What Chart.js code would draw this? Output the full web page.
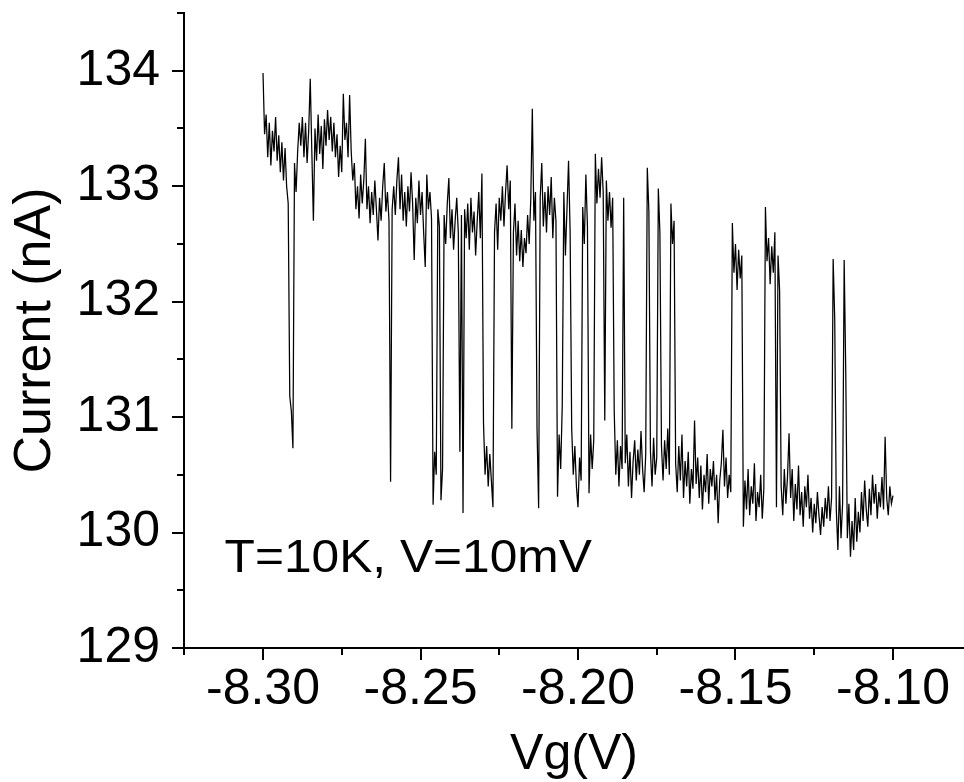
<!DOCTYPE html>
<html>
<head>
<meta charset="utf-8">
<script src="https://cdn.jsdelivr.net/npm/chart.js@4.4.1/dist/chart.umd.min.js"></script>
<style>
  html, body { margin: 0; padding: 0; background: #ffffff; }
  #wrap { width: 964px; height: 782px; position: relative; }
  canvas { display: block; }
</style>
</head>
<body>
<div id="wrap"><canvas id="c" width="964" height="782"></canvas></div>
<script>
// ---- Data ----
// Gate-voltage sweep: uniform sampling from -8.300 V in 0.0005 V steps
const vgStart = -8.30;
const vgStep = 0.0005;

// Current (nA) at each sweep step
const currentNA = [
  // -8.300 .. -8.292
  133.98,133.45,133.62,133.25,133.55,133.18,133.48,133.30,133.60,133.22,133.44,133.12,133.38,133.05,133.33,133.00,132.85,
  // first dip
  131.18,131.05,130.73,133.20,132.95,133.30,133.55,133.35,
  // upper plateau
  133.60,133.25,133.55,133.20,133.48,133.93,133.30,132.70,133.50,133.22,
  133.62,133.28,133.52,133.15,133.58,133.35,133.66,133.40,133.60,133.30,
  133.55,133.25,133.45,133.08,133.35,133.12,133.80,133.40,133.55,133.25,
  133.79,
  // descending band
  133.30,133.05,133.20,132.80,133.00,132.72,133.10,132.85,133.05,133.41,
  132.80,133.00,132.68,132.95,132.75,133.05,132.80,132.53,132.90,132.70,
  133.00,133.20,132.78,132.95,132.70,
  130.44,132.80,
  133.00,132.75,133.05,133.25,132.80,133.10,132.70,132.95,132.65,133.00,
  132.78,133.12,132.85,132.36,132.90,132.68,133.05,132.75,132.95,132.60,
  132.30,133.10,132.80,132.95,132.72,
  130.24,130.70,130.50,132.80,132.65,130.28,130.55,
  132.75,132.50,132.85,133.07,132.55,132.80,132.45,132.70,132.90,132.60,
  130.70,132.75,130.17,132.80,
  132.55,132.85,132.45,132.90,132.60,132.78,132.40,132.70,132.95,132.55,133.11,
  130.95,130.50,130.75,130.40,130.68,130.45,130.22,
  132.60,132.85,132.45,132.90,132.70,133.00,132.65,132.95,133.18,132.80,133.05,
  130.90,132.60,
  132.85,132.40,132.70,132.35,132.62,132.30,132.55,132.42,132.75,132.50,132.88,133.67,132.70,132.95,
  130.89,130.21,
  132.90,133.20,132.65,132.95,132.60,133.00,132.75,133.08,132.55,132.90,132.70,
  130.31,130.85,130.55,131.10,
  132.95,132.40,132.80,133.22,132.60,
  130.90,130.50,130.75,130.40,130.22,130.65,130.45,
  132.82,132.50,133.10,132.65,
  130.34,130.85,130.55,130.80,
  133.28,132.85,133.15,132.90,133.25,132.95,130.97,133.05,132.70,132.95,132.64,132.90,
  131.05,130.50,130.80,130.40,130.75,130.55,
  132.90,
  130.60,130.85,130.40,130.70,130.30,130.62,130.80,130.45,130.72,130.50,130.88,130.55,130.35,130.68,
  133.16,132.78,
  130.70,130.40,130.82,130.50,130.65,
  132.98,132.60,130.75,
  130.45,130.80,130.55,130.90,130.50,
  132.85,132.50,132.70,
  // lower state
  130.60,130.35,130.75,130.45,130.85,130.30,130.62,130.40,130.70,130.25,
  130.55,130.38,130.97,130.42,130.65,130.30,130.58,130.20,130.50,130.35,
  130.68,130.25,130.55,130.40,130.62,130.28,130.50,130.08,130.45,130.60,
  130.89,130.40,130.65,130.30,130.50,130.35,
  132.68,132.25,132.50,132.10,132.45,132.20,132.40,
  130.05,130.45,130.20,130.55,130.15,130.40,130.25,130.60,130.10,130.35,130.22,130.50,130.12,130.38,
  132.82,132.35,132.55,132.15,132.48,132.25,132.60,130.22,132.40,132.10,
  130.40,130.15,130.55,130.25,130.48,130.86,130.30,130.55,130.10,130.42,
  130.20,130.58,130.15,130.35,130.05,130.40,130.22,130.50,130.12,130.30,
  130.00,130.25,130.08,130.35,130.15,129.98,130.22,130.05,130.30,130.12,
  130.40,130.10,130.30,
  132.37,131.85,
  130.20,129.85,130.40,129.95,130.25,
  132.36,131.40,
  129.95,130.25,129.79,130.10,129.85,130.30,129.92,130.18,130.00,
  130.35,130.10,130.45,130.20,130.05,130.38,130.15,130.50,130.25,130.42,
  130.12,130.35,130.22,130.48,130.20,130.83,130.30,130.15,130.40,130.25,
  130.32
];

// Tick values / labels
const xTickValues = [-8.30, -8.25, -8.20, -8.15, -8.10];
const xTickLabels = ['-8.30', '-8.25', '-8.20', '-8.15', '-8.10'];
const xMinorTicks = [-8.325, -8.275, -8.225, -8.175, -8.125, -8.075];
const yTickValues = [129, 130, 131, 132, 133, 134];
const yTickLabels = ['129', '130', '131', '132', '133', '134'];
const yMinorTicks = [129.5, 130.5, 131.5, 132.5, 133.5, 134.5];

const xTitle = 'Vg(V)';
const yTitle = 'Current (nA)';
const noteText = 'T=10K, V=10mV';

// ---- Layout / style (not data) ----
const FONT = '"Liberation Sans", Arial, Helvetica, sans-serif';
const X_MIN = -8.32508, X_MAX = -8.07746;
const Y_MIN = 129, Y_MAX = 134.5;
const NOTE_AT = { x: -8.3122, y: 129.655 };

const points = currentNA.map((c, i) => ({ x: vgStart + i * vgStep, y: c }));

const extrasPlugin = {
  id: 'extras',
  afterDraw(chart) {
    const ctx = chart.ctx;
    const xs = chart.scales.x, ys = chart.scales.y;
    const area = chart.chartArea;
    ctx.save();
    ctx.strokeStyle = '#000';
    ctx.lineWidth = 2;
    ctx.beginPath();
    yMinorTicks.forEach(v => {
      const py = Math.round(ys.getPixelForValue(v));
      ctx.moveTo(area.left - 7, py);
      ctx.lineTo(area.left, py);
    });
    xMinorTicks.forEach(v => {
      const px = Math.round(xs.getPixelForValue(v));
      ctx.moveTo(px, area.bottom);
      ctx.lineTo(px, area.bottom + 7);
    });
    ctx.stroke();
    ctx.fillStyle = '#000';
    ctx.font = '46px ' + FONT;
    ctx.textAlign = 'left';
    ctx.textBaseline = 'alphabetic';
    const nx = xs.getPixelForValue(NOTE_AT.x), ny = ys.getPixelForValue(NOTE_AT.y);
    ctx.translate(nx, ny);
    ctx.scale(1.08, 1);
    ctx.fillText(noteText, 0, 0);
    ctx.restore();
  }
};

new Chart(document.getElementById('c'), {
  type: 'line',
  data: {
    datasets: [{
      data: points,
      borderColor: '#000000',
      borderWidth: 1.25,
      pointRadius: 0,
      tension: 0,
      fill: false
    }]
  },
  options: {
    responsive: false,
    animation: false,
    devicePixelRatio: 1,
    layout: { padding: { top: 13, left: 0, right: 0, bottom: 0 } },
    plugins: { legend: { display: false }, tooltip: { enabled: false } },
    scales: {
      x: {
        type: 'linear',
        min: X_MIN,
        max: X_MAX,
        afterBuildTicks: s => { s.ticks = xTickValues.map(v => ({ value: v })); },
        afterFit: s => { s.height = 134; s.paddingLeft = 0; s.paddingRight = 0; },
        ticks: {
          autoSkip: false,
          maxRotation: 0,
          minRotation: 0,
          padding: 0,
          color: '#000',
          font: { family: FONT, size: 50 },
          callback: (v, i) => xTickLabels[i]
        },
        grid: { display: true, drawOnChartArea: false, drawTicks: true, tickLength: 12, lineWidth: 2, tickWidth: 2, tickColor: '#000', color: '#000' },
        border: { display: true, color: '#000', width: 2 },
        title: { display: true, text: xTitle, color: '#000', font: { family: FONT, size: 50 }, padding: { top: 0, bottom: -3 } }
      },
      y: {
        type: 'linear',
        min: Y_MIN,
        max: Y_MAX,
        afterBuildTicks: s => { s.ticks = yTickValues.map(v => ({ value: v })); },
        afterFit: s => { s.width = 184; s.paddingTop = 0; s.paddingBottom = 0; },
        ticks: {
          autoSkip: false,
          padding: 12,
          color: '#000',
          font: { family: FONT, size: 50 },
          callback: (v, i) => yTickLabels[i]
        },
        grid: { display: true, drawOnChartArea: false, drawTicks: true, tickLength: 12, lineWidth: 2, tickWidth: 2, tickColor: '#000', color: '#000' },
        border: { display: true, color: '#000', width: 2 },
        title: { display: true, text: yTitle, color: '#000', font: { family: FONT, size: 52 }, padding: { top: 4, bottom: 0 } }
      }
    }
  },
  plugins: [extrasPlugin]
});
</script>
</body>
</html>
